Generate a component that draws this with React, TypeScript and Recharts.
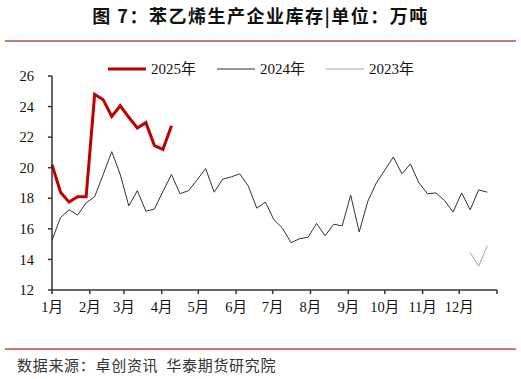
import React from "react";
import { LineChart, Line, XAxis, YAxis, Legend } from "recharts";

// weekly inventory, 10k tonnes
const y2025 = [
  20.2, 18.4, 17.75, 18.1, 18.1, 24.8, 24.45, 23.35, 24.05, 23.3, 22.6, 22.95,
  21.45, 21.2, 22.75,
];
const y2024 = [
  15.25, 16.75, 17.25, 16.9, 17.7, 18.1, 19.55, 21.05, 19.55, 17.5, 18.5, 17.15,
  17.3, 18.45, 19.55, 18.3, 18.5, 19.2, 19.95, 18.4, 19.25, 19.4, 19.6, 18.8,
  17.35, 17.75, 16.6, 16.05, 15.1, 15.35, 15.45, 16.35, 15.55, 16.3, 16.2, 18.2,
  15.8, 17.8, 19.0, 19.85, 20.7, 19.6, 20.25, 19.0, 18.3, 18.35, 17.85, 17.1,
  18.35, 17.25, 18.55, 18.4,
];
// 2023 only shown for the last three weeks
const y2023Start = 49;
const y2023 = [14.45, 13.55, 14.9];

const seriesNames = ["2025年", "2024年", "2023年"];
const monthLabels = ["1月", "2月", "3月", "4月", "5月", "6月", "7月", "8月", "9月", "10月", "11月", "12月", ""];
const monthStartDays = [0, 31, 59, 90, 120, 151, 181, 212, 243, 273, 304, 334, 365];
const yTicks = [12, 14, 16, 18, 20, 22, 24, 26];

const data = y2024.map((v, i) => ({
  week: i,
  y2025: i < y2025.length ? y2025[i] : null,
  y2024: v,
  y2023: i >= y2023Start ? y2023[i - y2023Start] : null,
}));

const serif = "'Liberation Serif', 'Times New Roman', 'Noto Sans CJK SC', serif";
const cjk = "'Noto Sans CJK SC', 'Noto Sans', sans-serif";

function LegendContent(props: any) {
  const items = [...(props.payload || [])].sort(
    (a: any, b: any) => seriesNames.indexOf(a.value) - seriesNames.indexOf(b.value)
  );
  return (
    <div style={{ display: "flex", alignItems: "center", paddingLeft: 108, fontFamily: serif, fontSize: 15, color: "#111" }}>
      {items.map((it: any) => (
        <div key={it.value} style={{ display: "flex", alignItems: "center", marginRight: 21 }}>
          <svg width={38} height={6}>
            <line x1={0} y1={3} x2={38} y2={3} stroke={it.color} strokeWidth={it.value === "2025年" ? 3 : 1} />
          </svg>
          <span style={{ marginLeft: 5, lineHeight: "18px" }}>{it.value}</span>
        </div>
      ))}
    </div>
  );
}

export default function App() {
  return (
    <div style={{ position: "absolute", left: 0, top: 0, width: 521, height: 379, background: "#fff" }}>
      <div
        style={{
          position: "absolute",
          top: 5,
          left: 0,
          width: 521,
          textAlign: "center",
          fontFamily: cjk,
          fontWeight: 700,
          fontSize: 18,
          lineHeight: "20px",
          letterSpacing: 1.5,
          color: "#111",
        }}
      >
        图 7：苯乙烯生产企业库存|单位：万吨
      </div>
      <div style={{ position: "absolute", top: 40, left: 5, width: 511, height: 2, background: "#c87878" }} />

      <LineChart
        width={521}
        height={379}
        data={data}
        margin={{ top: 76, right: 24, bottom: 59, left: 12 }}
        style={{ position: "absolute", left: 0, top: 0 }}
      >
        <XAxis
          dataKey="week"
          type="number"
          domain={[0, 365 / 7]}
          ticks={monthStartDays.map((d) => d / 7)}
          tickFormatter={(_v: number, i: number) => monthLabels[i] ?? ""}
          interval={0}
          height={30}
          axisLine={{ stroke: "#333", strokeWidth: 1.5 }}
          tickLine={{ stroke: "#333", strokeWidth: 1.5 }}
          tickSize={4}
          tickMargin={8}
          tick={{ fontFamily: serif, fontSize: 14.5, fill: "#111" }}
        />
        <YAxis
          domain={[12, 26]}
          ticks={yTicks}
          interval={0}
          width={40}
          axisLine={{ stroke: "#333", strokeWidth: 1.5 }}
          tickLine={{ stroke: "#333", strokeWidth: 1.5 }}
          tickSize={4}
          tickMargin={14}
          tick={{ fontFamily: serif, fontSize: 14.5, fill: "#111" }}
        />
        <Legend
          verticalAlign="middle"
          align="center"
          wrapperStyle={{ top: 60, left: 0, width: 521 }}
          content={<LegendContent />}
        />
        <Line
          name="2025年"
          dataKey="y2025"
          stroke="#c00000"
          strokeWidth={3}
          dot={false}
          isAnimationActive={false}
        />
        <Line
          name="2024年"
          dataKey="y2024"
          stroke="#333"
          strokeWidth={1}
          dot={false}
          isAnimationActive={false}
        />
        <Line
          name="2023年"
          dataKey="y2023"
          stroke="#a6a6a6"
          strokeWidth={1}
          dot={false}
          isAnimationActive={false}
        />
      </LineChart>

      <div style={{ position: "absolute", top: 348, left: 5, width: 511, height: 2, background: "#c87878" }} />
      <div
        style={{
          position: "absolute",
          top: 356,
          left: 17,
          fontFamily: cjk,
          fontSize: 15,
          lineHeight: "18px",
          letterSpacing: 0.7,
          color: "#333",
          whiteSpace: "pre",
        }}
      >
        数据来源：卓创资讯<span style={{ marginLeft: 8 }}>华泰期货研究院</span>
      </div>
    </div>
  );
}
